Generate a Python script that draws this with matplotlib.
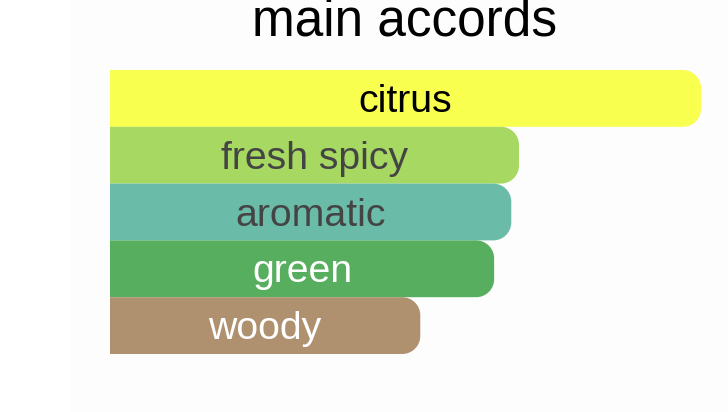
import matplotlib.pyplot as plt
from matplotlib.path import Path
from matplotlib.patches import PathPatch, Rectangle
from matplotlib.transforms import IdentityTransform

accords = ["citrus", "fresh spicy", "aromatic", "green", "woody"]
strength = [100, 69.2, 67.9, 65.0, 52.5]
bar_colors = ["#f9ff4f", "#a6d862", "#6bbba9", "#56ae5e", "#af9170"]
text_colors = ["#000000", "#444444", "#444444", "#ffffff", "#ffffff"]

plt.rcParams["font.family"] = ["Liberation Sans", "DejaVu Sans"]

W, H = 728, 412
fig = plt.figure(figsize=(W / 100, H / 100), dpi=100)
fig.patches.append(Rectangle((70 / W, 0), 1 - 70 / W, 1, transform=fig.transFigure,
                             facecolor="#fdfdfd", edgecolor="none", zorder=-5))

ax = fig.add_axes([110 / W, 58 / H, (701 - 110) / W, (354 - 70) / H])
ax.set_xlim(0, 100)
ax.set_ylim(len(accords) - 0.5, -0.5)
ax.axis("off")


def right_rounded(x0, y0, x1, y1, r):
    # x0,y0 bottom-left, x1,y1 top-right in pixels; round only the right side
    k = 0.5523
    verts = [(x0, y0), (x1 - r, y0),
             (x1 - r + k * r, y0), (x1, y0 + r - k * r), (x1, y0 + r),
             (x1, y1 - r),
             (x1, y1 - r + k * r), (x1 - r + k * r, y1), (x1 - r, y1),
             (x0, y1), (x0, y0)]
    codes = [Path.MOVETO, Path.LINETO,
             Path.CURVE4, Path.CURVE4, Path.CURVE4,
             Path.LINETO,
             Path.CURVE4, Path.CURVE4, Path.CURVE4,
             Path.LINETO, Path.CLOSEPOLY]
    return Path(verts, codes)


for i, (name, val) in enumerate(zip(accords, strength)):
    (px0, py0) = ax.transData.transform((0, i + 0.5))
    (px1, py1) = ax.transData.transform((val, i - 0.5))
    patch = PathPatch(right_rounded(px0, py0, px1, py1, 18),
                      transform=IdentityTransform(), clip_on=False,
                      facecolor=bar_colors[i], edgecolor="none", zorder=2 + i)
    ax.add_artist(patch)
    ax.text(val / 2, i + 0.24, name, ha="center", va="baseline", fontsize=28.3,
            color=text_colors[i], zorder=10)

fig.text(405 / W, 1 - 35 / H, "main accords", ha="center", va="baseline",
         fontsize=37, color="#000000")

fig.savefig("out.png", dpi=100)
